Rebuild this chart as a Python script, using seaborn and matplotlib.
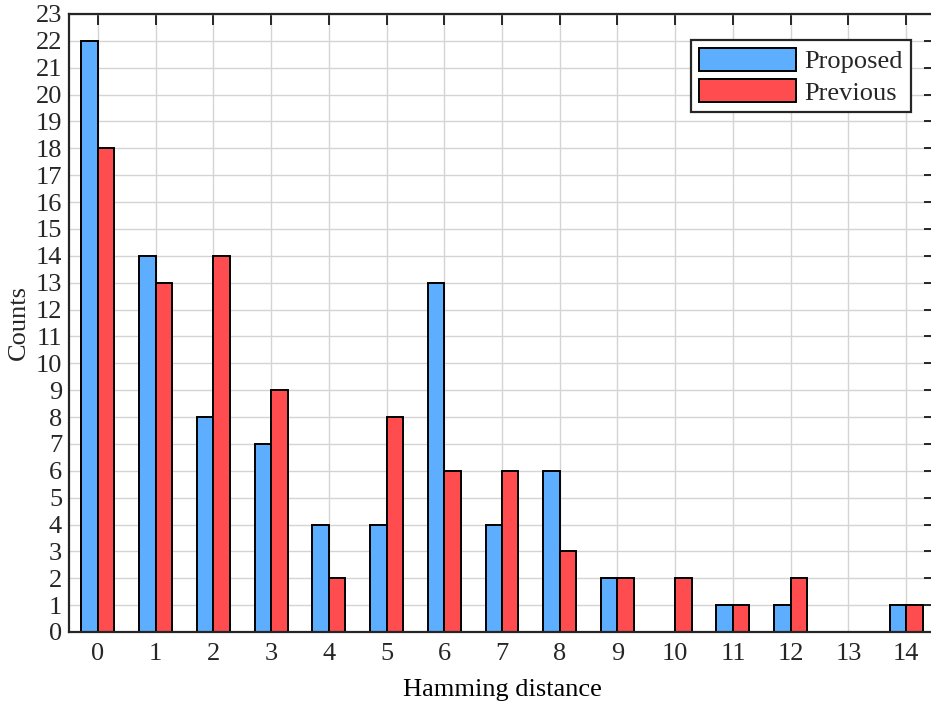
import matplotlib
matplotlib.use("Agg")
import matplotlib.pyplot as plt
import seaborn as sns
import pandas as pd

# Histogram of Hamming distances for the two methods
distances = list(range(15))
proposed = [22, 14, 8, 7, 4, 4, 13, 4, 6, 2, 0, 1, 1, 0, 1]
previous = [18, 13, 14, 9, 2, 8, 6, 6, 3, 2, 2, 1, 2, 0, 1]
methods = ["Proposed", "Previous"]
colors = ["#5DAEFF", "#FF4D4F"]

df = pd.DataFrame({
    "distance": distances * 2,
    "count": proposed + previous,
    "method": [methods[0]] * len(distances) + [methods[1]] * len(distances),
})

sns.set_style("white")
plt.rcParams["font.family"] = ["Liberation Serif", "DejaVu Serif"]

FS = 19

fig = plt.figure(figsize=(9.31, 7.12), dpi=100)
ax = fig.add_axes([69 / 931, 80 / 712, 866 / 931, 618 / 712])

sns.barplot(data=df, x="distance", y="count", hue="method",
            hue_order=methods, palette=colors, width=0.57,
            saturation=1, edgecolor="black", linewidth=1.4,
            ax=ax, errorbar=None)

ax.set_xlim(-0.5, 14.5)
ax.set_ylim(0, 23)
ax.set_yticks(range(0, 24))
ax.set_xticks(range(len(distances)))
ax.set_xticklabels([str(d) for d in distances])

ax.grid(True, color="#d4d4d4", linewidth=1.0)
ax.set_axisbelow(True)

for s in ax.spines.values():
    s.set_visible(True)
    s.set_color("#262626")
    s.set_linewidth(1.6)

ax.tick_params(axis="both", which="both", direction="in", top=True,
               right=True, length=8, width=1.4, color="#262626",
               labelsize=FS, labelcolor="#262626")
ax.tick_params(axis="x", pad=8)
ax.tick_params(axis="y", pad=5)

ax.set_xlabel("Hamming distance", fontsize=FS, color="black", labelpad=10)
ax.set_ylabel("Counts", fontsize=FS, color="#262626", labelpad=4)

handles, labels = ax.get_legend_handles_labels()
leg = ax.legend(handles, labels, loc="upper right",
                bbox_to_anchor=(0.972, 0.958), fontsize=FS,
                frameon=True, fancybox=False, shadow=False,
                handlelength=3.7, handleheight=0.95, handletextpad=0.3,
                borderpad=0.3, labelspacing=0.22, borderaxespad=0)
leg.get_frame().set_edgecolor("#262626")
leg.get_frame().set_linewidth(1.6)
leg.get_frame().set_alpha(1)

fig.savefig("out.png", dpi=100)
